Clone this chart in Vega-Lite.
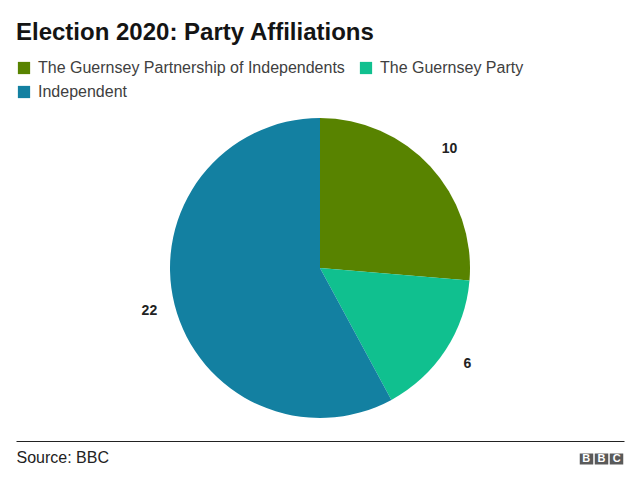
{
  "$schema": "https://vega.github.io/schema/vega-lite/v6.json",
  "width": 608,
  "height": 346,
  "autosize": {"type": "none"},
  "padding": {"left": 16, "top": 95, "right": 16, "bottom": 45},
  "background": "white",
  "title": {
    "text": "Election 2020: Party Affiliations",
    "anchor": "start",
    "frame": "group",
    "fontSize": 24,
    "fontWeight": "bold",
    "color": "#141414",
    "font": "Liberation Sans",
    "offset": 15
  },
  "data": {
    "values": [
      {"party": "The Guernsey Partnership of Independents", "seats": 10, "order": 1},
      {"party": "The Guernsey Party", "seats": 6, "order": 2},
      {"party": "Independent", "seats": 22, "order": 3}
    ]
  },
  "layer": [
    {
      "mark": {"type": "arc", "outerRadius": 150},
      "encoding": {
        "theta": {"field": "seats", "type": "quantitative", "stack": true},
        "order": {"field": "order", "type": "quantitative"},
        "color": {
          "field": "party",
          "type": "nominal",
          "scale": {
            "domain": ["The Guernsey Partnership of Independents", "The Guernsey Party", "Independent"],
            "range": ["#588300", "#10C08F", "#1380A1"]
          },
          "legend": {
            "title": null,
            "orient": "none",
            "legendX": 0,
            "legendY": -35,
            "direction": "horizontal",
            "columns": 2,
            "symbolType": "square",
            "symbolSize": 150,
            "symbolStrokeWidth": 0,
            "symbolOpacity": 1,
            "labelFontSize": 16,
            "labelColor": "#404040",
            "labelFont": "Liberation Sans",
            "labelOffset": 6,
            "columnPadding": 13,
            "rowPadding": 8,
            "labelLimit": 400,
            "padding": 0
          }
        }
      }
    },
    {
      "mark": {"type": "text", "radius": 176, "fontSize": 14, "fontWeight": "bold", "fill": "#222222", "font": "Liberation Sans", "align": "center", "baseline": "middle"},
      "encoding": {
        "theta": {"field": "seats", "type": "quantitative", "stack": true},
        "order": {"field": "order", "type": "quantitative"},
        "detail": {"field": "party", "type": "nominal"},
        "text": {"field": "seats", "type": "quantitative"}
      }
    },
    {
      "mark": {"type": "point", "opacity": 0},
      "encoding": {
        "x": {
          "datum": 0,
          "type": "quantitative",
          "scale": {"domain": [0, 1], "nice": false, "zero": false},
          "axis": {
            "orient": "bottom",
            "offset": 0,
            "domain": true,
            "domainColor": "#222222",
            "domainWidth": 1,
            "ticks": false,
            "labels": false,
            "grid": false,
            "title": "Source: BBC",
            "titleFontSize": 16,
            "titleFontWeight": "normal",
            "titleColor": "#222222",
            "titleFont": "Liberation Sans",
            "titleAnchor": "start",
            "titleAlign": "left",
            "titleX": 0,
            "titleY": 21,
            "titleBaseline": "alphabetic"
          }
        }
      }
    },
    {
      "mark": {"type": "point", "opacity": 0},
      "encoding": {
        "x": {
          "datum": 0,
          "type": "quantitative",
          "scale": {"domain": [0, 1], "nice": false, "zero": false},
          "axis": {
            "orient": "bottom",
            "offset": 12,
            "domain": false,
            "grid": false,
            "ticks": true,
            "values": [0.937, 0.9622, 0.9873],
            "tickSize": 11,
            "tickWidth": 13.5,
            "tickColor": "#5a5a5a",
            "tickCap": "butt",
            "labels": true,
            "labelExpr": "datum.value > 0.98 ? 'C' : 'B'",
            "labelColor": "white",
            "labelFont": "Liberation Sans",
            "labelFontSize": 11,
            "labelFontWeight": "bold",
            "labelPadding": -5.5,
            "labelBaseline": "middle",
            "labelAlign": "center",
            "labelFlush": false,
            "labelOverlap": false,
            "labelBound": false,
            "title": null
          }
        }
      }
    }
  ],
  "resolve": {"scale": {"x": "independent"}, "axis": {"x": "independent"}},
  "config": {"view": {"stroke": null}, "font": "Liberation Sans"}
}
